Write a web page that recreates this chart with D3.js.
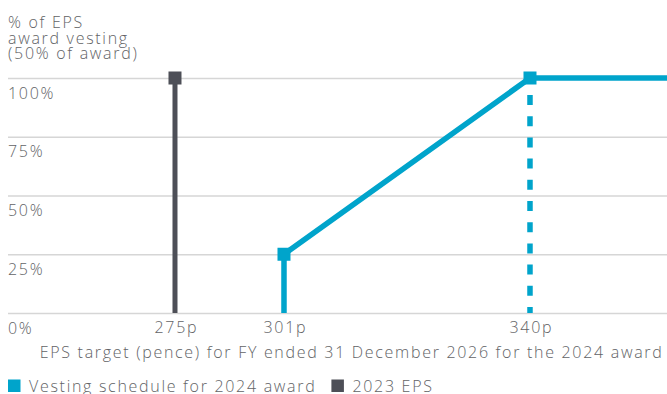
<!DOCTYPE html>
<html>
<head>
<meta charset="utf-8">
<script src="https://cdn.jsdelivr.net/npm/d3@7"></script>
<style>
  html, body { margin: 0; padding: 0; background: #fff; }
  svg { display: block; }
  text { font-family: "Open Sans", "Lato", sans-serif; font-weight: 300; fill: #626366; letter-spacing: 1.7px; }
</style>
</head>
<body>
<svg id="chart" width="667" height="394"></svg>
<script>
// ---- data ----
const titleLines = ["% of EPS", "award vesting", "(50% of award)"];
const yTicks = [0, 25, 50, 75, 100];
const yTickLabels = ["0%", "25%", "50%", "75%", "100%"];
const xTicks = [275, 301, 340];
const xTickLabels = ["275p", "301p", "340p"];
const xAxisTitle = "EPS target (pence) for FY ended 31 December 2026 for the 2024 award";
const vestingEps = [301, 301, 340, 365];
const vestingPct = [0, 25, 100, 100];
const vestingMarkerEps = [301, 340];
const vestingMarkerPct = [25, 100];
const eps2023 = [275];
const eps2023Pct = [100];
const legendLabels = ["Vesting schedule for 2024 award", "2023 EPS"];

const TEAL = "#00a4cb";
const DARK = "#4d4f57";

const svg = d3.select("#chart");
const mLeft = 8, mRight = 667, mTop = 78, mBottom = 313;
const pw = mRight - mLeft;

// piecewise (non-proportional) EPS axis as in the original illustration
const x = d3.scaleLinear()
  .domain([250, 275, 301, 340, 365])
  .range([mLeft, mLeft + pw * 0.2534, mLeft + pw * 0.4188, mLeft + pw * 0.7921, mRight]);
const y = d3.scaleLinear().domain([0, 100]).range([mBottom, mTop]);

// title
const t = svg.append("text").attr("x", 8).attr("y", 28).style("font-size", "16px");
titleLines.forEach((l, i) => t.append("tspan").attr("x", 8).attr("dy", i === 0 ? 0 : 15.5).text(l));

// gridlines + y labels
const yAxis = d3.axisLeft(y).tickValues(yTicks).tickSize(-(pw)).tickFormat((d, i) => yTickLabels[i]);
const gy = svg.append("g").attr("transform", `translate(${mLeft},0)`).call(yAxis);
gy.select(".domain").remove();
gy.selectAll(".tick line").attr("stroke", "#d6d6d6").attr("stroke-width", 1.5);
gy.selectAll(".tick text")
  .attr("x", 0).attr("dy", 0).attr("y", 20)
  .attr("text-anchor", "start")
  .attr("fill", null)
  .style("font-size", "16px");

// x tick labels
const xAxis = d3.axisBottom(x).tickValues(xTicks).tickSize(0).tickFormat((d, i) => xTickLabels[i]);
const gx = svg.append("g").attr("transform", `translate(0,${mBottom})`).call(xAxis);
gx.select(".domain").remove();
gx.selectAll(".tick text").attr("y", 0).attr("dy", 19.5).attr("x", 0.85).attr("fill", null).style("font-size", "16px");

// axis title
svg.append("text").attr("x", 663.5).attr("y", 358).attr("text-anchor", "end")
  .style("font-size", "16px").text(xAxisTitle);

// 2023 EPS
eps2023.forEach((e, i) => {
  svg.append("line").attr("x1", x(e)).attr("x2", x(e)).attr("y1", y(0)).attr("y2", y(eps2023Pct[i]))
    .attr("stroke", DARK).attr("stroke-width", 5);
  svg.append("rect").attr("x", x(e) - 6.5).attr("y", y(eps2023Pct[i]) - 6.5)
    .attr("width", 13).attr("height", 13).attr("fill", DARK);
});

// dashed drop at max
const lastM = vestingMarkerEps.length - 1;
svg.append("line")
  .attr("x1", x(vestingMarkerEps[lastM])).attr("x2", x(vestingMarkerEps[lastM]))
  .attr("y1", y(vestingMarkerPct[lastM])).attr("y2", y(0))
  .attr("stroke", TEAL).attr("stroke-width", 5.5)
  .attr("stroke-dasharray", "10,11.2").attr("stroke-dashoffset", 4.2);

// vesting line
const pts = vestingEps.map((e, i) => [x(e), y(vestingPct[i])]);
svg.append("path").attr("d", d3.line()(pts)).attr("fill", "none")
  .attr("stroke", TEAL).attr("stroke-width", 5.5).attr("stroke-linejoin", "miter");
vestingMarkerEps.forEach((e, i) => {
  svg.append("rect").attr("x", x(e) - 6.5).attr("y", y(vestingMarkerPct[i]) - 6.5)
    .attr("width", 13).attr("height", 13).attr("fill", TEAL);
});

// legend
const legendColors = [TEAL, DARK];
const lg = svg.append("g");
let lx = 8;
legendLabels.forEach((l, i) => {
  lg.append("rect").attr("x", lx).attr("y", 379.5).attr("width", 12.5).attr("height", 12.5).attr("fill", legendColors[i]);
  const tx = lg.append("text").attr("x", lx + 21).attr("y", 391.5).style("font-size", "16px").text(l);
  lx = lx + 21 + tx.node().getComputedTextLength() + 15;
});
</script>
</body>
</html>
